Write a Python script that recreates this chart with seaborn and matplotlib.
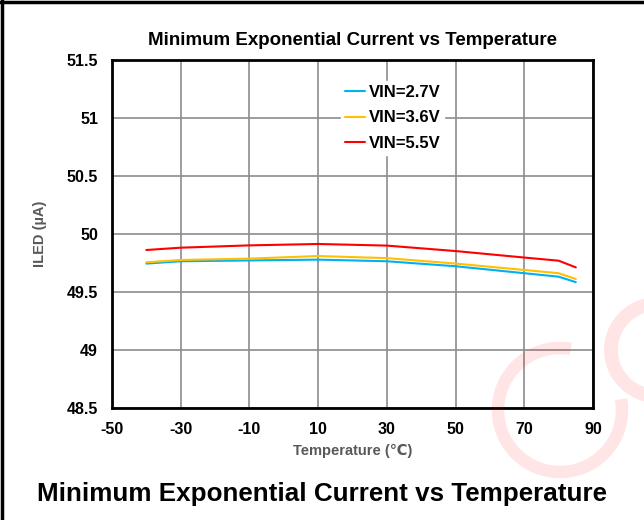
import numpy as np
import pandas as pd
import matplotlib
matplotlib.use("Agg")
import matplotlib.pyplot as plt
from matplotlib.patches import Arc
import seaborn as sns

# temperature points (degC) and ILED (uA) per supply voltage
temps = [-40, -30, -10, 10, 30, 50, 70, 80, 85]
iled_27 = [49.745, 49.765, 49.772, 49.779, 49.765, 49.722, 49.662, 49.632, 49.585]
iled_36 = [49.756, 49.776, 49.788, 49.810, 49.792, 49.745, 49.690, 49.662, 49.612]
iled_55 = [49.862, 49.882, 49.902, 49.914, 49.900, 49.853, 49.797, 49.770, 49.712]
series_names = ["VIN=2.7V", "VIN=3.6V", "VIN=5.5V"]
series_colors = ["#00B0F0", "#FFC000", "#FF0000"]

x_ticks = [-50, -30, -10, 10, 30, 50, 70, 90]
y_ticks = [48.5, 49, 49.5, 50, 50.5, 51, 51.5]
y_tick_labels = ["48.5", "49", "49.5", "50", "50.5", "51", "51.5"]

df = pd.DataFrame({
    "temp": temps * 3,
    "iled": iled_27 + iled_36 + iled_55,
    "series": sum([[n] * len(temps) for n in series_names], []),
})

sns.set_style("white")
plt.rcParams["font.family"] = ["Liberation Sans", "DejaVu Sans"]
plt.rcParams["axes.unicode_minus"] = False
plt.rcParams["text.color"] = "black"

fig = plt.figure(figsize=(6.44, 5.2), dpi=100)
ax = fig.add_axes([112 / 644, 1 - 408 / 520, (593 - 112) / 644, (408 - 60) / 520])

sns.lineplot(data=df, x="temp", y="iled", hue="series", hue_order=series_names,
             palette=series_colors, linewidth=1.5, ax=ax, legend=True)

ax.set_xlim(-50, 90)
ax.set_ylim(48.5, 51.5)
ax.set_xticks(x_ticks)
ax.set_yticks(y_ticks)
ax.set_yticklabels(y_tick_labels)
ax.tick_params(axis="both", length=0, labelsize=11.5, pad=10, labelcolor="black")
for lbl in ax.get_xticklabels() + ax.get_yticklabels():
    lbl.set_fontweight("bold")
ax.grid(True, color="#8c8c8c", linewidth=1.2)
for s in ax.spines.values():
    s.set_color("black")
    s.set_linewidth(2)

ax.set_xlabel("Temperature (℃)", fontsize=10.5, fontweight="bold", color="#595959", labelpad=5)
ax.set_ylabel("ILED (µA)", fontsize=10.5, fontweight="bold", color="#595959", labelpad=14)
ax.set_title("Minimum Exponential Current vs Temperature", fontsize=13.5,
             fontweight="bold", pad=11, color="black")

leg = ax.legend(loc="upper left", bbox_to_anchor=(0.476, 0.94), frameon=True,
                fancybox=False, edgecolor="white", framealpha=1, fontsize=12,
                handlelength=1.2, handletextpad=0.2, labelspacing=0.62,
                borderpad=0.25, borderaxespad=0)
for t in leg.get_texts():
    t.set_fontweight("bold")
    t.set_color("black")

fig.text(0.5, 1 - 494 / 520, "Minimum Exponential Current vs Temperature",
         ha="center", va="center", fontsize=18.7, fontweight="bold", color="black")

# frame lines at top and left edge
fig.add_artist(plt.Line2D([0, 1], [1 - 1.5 / 520, 1 - 1.5 / 520], color="black",
                          linewidth=2.5, transform=fig.transFigure))
fig.add_artist(plt.Line2D([1.5 / 644, 1.5 / 644], [0, 1], color="black",
                          linewidth=2.5, transform=fig.transFigure))

# faint watermark rings (pixel coordinates, origin bottom-left)
wm = (1.0, 0.0, 0.0, 0.10)
fig.add_artist(Arc((560, 520 - 410), 124, 124, theta1=80, theta2=370,
                   linewidth=9, color=wm, transform=None, zorder=10))
fig.add_artist(Arc((657, 520 - 350), 92, 92, theta1=95, theta2=265,
                   linewidth=10, color=wm, transform=None, zorder=10))

fig.savefig("out.png", dpi=100)
